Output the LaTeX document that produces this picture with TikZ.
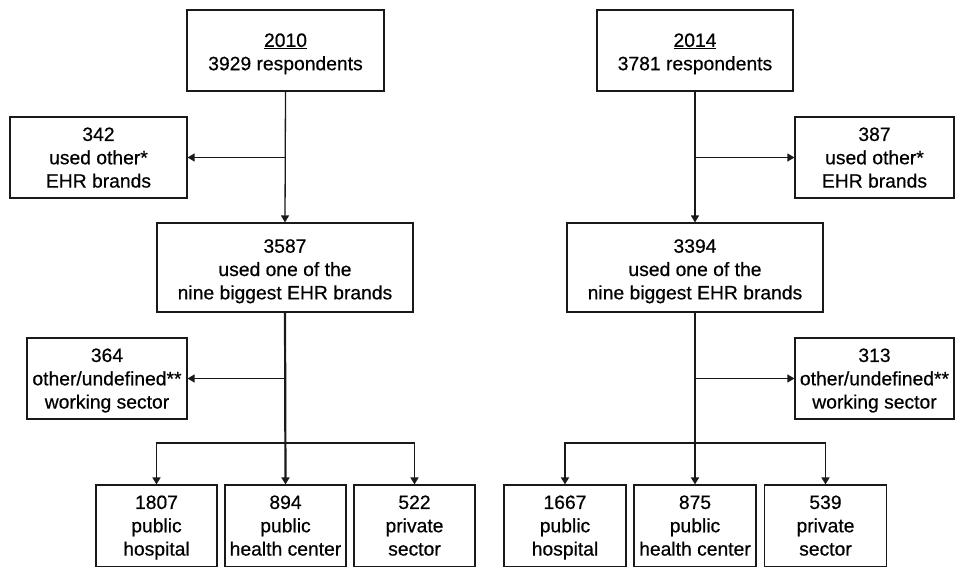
\documentclass[tikz,border=0pt]{standalone}
\usepackage{fontspec}
\setmainfont{Liberation Sans}
\newfontface\txtfont{Liberation Sans}[FakeBold=0.5]
\usetikzlibrary{arrows.meta}
\newcommand\topst[1]{\rule{0pt}{#1pt}}
\newcommand\botst{\rule[-4.5pt]{0pt}{4.5pt}}
\begin{document}
\begin{tikzpicture}[x=1pt,y=-1pt,
  box/.style={draw=black!90,line width=1.2pt,inner sep=0pt,align=center,
    font=\txtfont\fontsize{19.3}{23.3}\selectfont,minimum height=81pt},
  tip/.style={-{Triangle[length=7pt,width=8pt]}},
  arr/.style={draw=black!90,line width=1.3pt,tip},
  tarr/.style={draw=black!90,line width=2.2pt,tip},
  hline/.style={draw=black!90,line width=1.6pt,tip}]
\clip (0,0) rectangle (955,566);
% left tree
\node[box,minimum width=197pt] (Ltop) at (285.5,50.5) {\topst{20.6}\underline{2010}\\3929 respondents\botst};
\node[box,minimum width=177pt] (Lo1) at (98.5,157.5) {\topst{18}342\\used other*\\EHR brands\botst};
\node[box,minimum width=256pt,minimum height=89pt] (Lmid) at (285,267.5) {\topst{21.5}3587\\used one of the\\nine biggest EHR brands\botst};
\node[box,minimum width=160pt] (Lo2) at (107,378.5) {\topst{18}364\\other/undefined**\\working sector\botst};
\node[box,minimum width=121pt,minimum height=82pt] (Lb1) at (156.5,526) {\topst{17}1807\\public\\hospital\botst};
\node[box,minimum width=121pt,minimum height=82pt] (Lb2) at (285.5,526) {\topst{17}894\\public\\health center\botst};
\node[box,minimum width=121pt,minimum height=82pt] (Lb3) at (414.5,526) {\topst{17}522\\private\\sector\botst};
\draw[arr] (Ltop.south) -- (Lmid.north);
\coordinate (Lj1) at (Ltop.south |- Lo1.east);
\draw[arr] (Lj1) -- (Lo1.east);
\draw[tarr] (Lmid.south) -- (Lb2.north);
\coordinate (Lj2) at (Lmid.south |- Lo2.east);
\draw[arr] (Lj2) -- (Lo2.east);
\coordinate (Lh) at (285,443);
\draw[hline] (Lh) -| (Lb1.north);
\draw[hline] (Lh) -| (Lb3.north);
% right tree
\node[box,minimum width=196pt] (Rtop) at (695,50.5) {\topst{20.6}\underline{2014}\\3781 respondents\botst};
\node[box,minimum width=159pt] (Ro1) at (874.5,157.5) {\topst{18}387\\used other*\\EHR brands\botst};
\node[box,minimum width=256pt,minimum height=89pt] (Rmid) at (695,267.5) {\topst{21.5}3394\\used one of the\\nine biggest EHR brands\botst};
\node[box,minimum width=159pt] (Ro2) at (874.5,378.5) {\topst{18}313\\other/undefined**\\working sector\botst};
\node[box,minimum width=122pt,minimum height=82pt] (Rb1) at (565,526) {\topst{17}1667\\public\\hospital\botst};
\node[box,minimum width=122pt,minimum height=82pt] (Rb2) at (695,526) {\topst{17}875\\public\\health center\botst};
\node[box,minimum width=122pt,minimum height=82pt] (Rb3) at (825.5,526) {\topst{17}539\\private\\sector\botst};
\draw[arr] (Rtop.south) -- (Rmid.north);
\coordinate (Rj1) at (Rtop.south |- Ro1.west);
\draw[arr] (Rj1) -- (Ro1.west);
\draw[tarr] (Rmid.south) -- (Rb2.north);
\coordinate (Rj2) at (Rmid.south |- Ro2.west);
\draw[arr] (Rj2) -- (Ro2.west);
\coordinate (Rh) at (695,443);
\draw[hline] (Rh) -| (Rb1.north);
\draw[hline] (Rh) -| (Rb3.north);
\end{tikzpicture}
\end{document}
